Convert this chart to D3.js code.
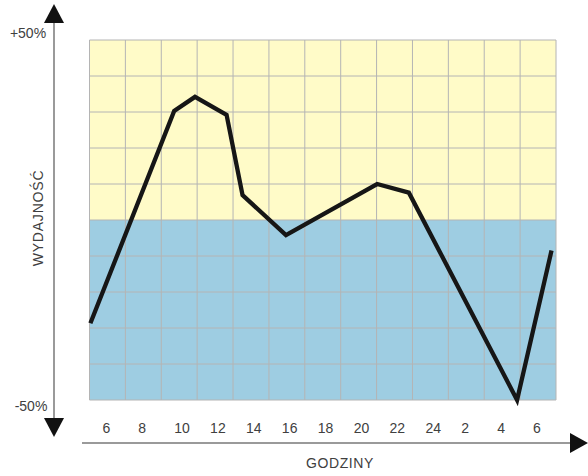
<!DOCTYPE html>
<html>
<head>
<meta charset="utf-8">
<script src="https://cdn.jsdelivr.net/npm/d3@7"></script>
<style>
  html, body { margin: 0; padding: 0; background: #ffffff; }
  svg { display: block; font-family: "Liberation Sans", Arial, sans-serif; }
</style>
</head>
<body>
<svg id="chart" width="588" height="476"></svg>
<script>
// Data (hours continue past 24: 26 = 2:00, 28 = 4:00, 30 = 6:00)
const hours = [5.05, 9.72, 10.88, 12.64, 13.53, 15.95, 21.03, 22.8, 28.83, 30.75];
const efficiency = [-28.7, 30.3, 34.2, 29.2, 6.9, -4.2, 10.0, 7.6, -50.0, -8.5];
const tickHours = [6, 8, 10, 12, 14, 16, 18, 20, 22, 24, 26, 28, 30];
const tickLabels = ["6", "8", "10", "12", "14", "16", "18", "20", "22", "24", "2", "4", "6"];
const yGridValues = [-50, -40, -30, -20, -10, 0, 10, 20, 30, 40, 50];
const xGridHours = [5, 7, 9, 11, 13, 15, 17, 19, 21, 23, 25, 27, 29, 31];

const svg = d3.select("#chart");
const plot = { left: 89.5, right: 556, top: 40, bottom: 400 };

const x = d3.scaleLinear().domain([5, 31]).range([plot.left, plot.right]);
const y = d3.scaleLinear().domain([-50, 50]).range([plot.bottom, plot.top]);

// Background zones
svg.append("rect")
  .attr("x", x(5)).attr("y", y(50))
  .attr("width", x(31) - x(5)).attr("height", y(0) - y(50))
  .attr("fill", "#fffbc8");
svg.append("rect")
  .attr("x", x(5)).attr("y", y(0))
  .attr("width", x(31) - x(5)).attr("height", y(-50) - y(0))
  .attr("fill", "#9ecde2");

// Grid
const grid = svg.append("g").attr("stroke", "#b4b4b4").attr("stroke-width", 1);
grid.selectAll("line.v").data(xGridHours).join("line")
  .attr("x1", d => x(d)).attr("x2", d => x(d))
  .attr("y1", y(50)).attr("y2", y(-50));
grid.selectAll("line.h").data(yGridValues).join("line")
  .attr("x1", x(5)).attr("x2", x(31))
  .attr("y1", d => y(d)).attr("y2", d => y(d));

// Line
const line = d3.line().x((d, i) => x(hours[i])).y(d => y(d));
svg.append("path")
  .datum(efficiency)
  .attr("d", line)
  .attr("fill", "none")
  .attr("stroke", "#161616")
  .attr("stroke-width", 4.3)
  .attr("stroke-linejoin", "miter");

// X tick labels
const xAxis = d3.axisBottom(x)
  .tickValues(tickHours)
  .tickSize(0)
  .tickPadding(0)
  .tickFormat((d, i) => tickLabels[i]);
const gx = svg.append("g")
  .attr("transform", "translate(0," + 423 + ")")
  .call(xAxis);
gx.select(".domain").remove();
gx.selectAll("text")
  .attr("text-anchor", "start")
  .attr("dx", -5.5)
  .attr("font-size", 14)
  .attr("font-family", "Liberation Sans, Arial, sans-serif")
  .attr("fill", "#404040");

// Axis lines
svg.append("line")
  .attr("x1", 54).attr("x2", 54).attr("y1", 22).attr("y2", 418)
  .attr("stroke", "#9a9a9a").attr("stroke-width", 2);
svg.append("line")
  .attr("x1", 82).attr("x2", 571).attr("y1", 443).attr("y2", 443)
  .attr("stroke", "#9a9a9a").attr("stroke-width", 2);

// Arrows
svg.append("path").attr("d", "M54,4 L44,23 L64,23 Z").attr("fill", "#111");
svg.append("path").attr("d", "M44,418 L64,418 L54,437 Z").attr("fill", "#111");
svg.append("path").attr("d", "M570,433 L588,443 L570,453 Z").attr("fill", "#111");

// Y labels
svg.append("text").attr("x", 28).attr("y", 38)
  .attr("text-anchor", "middle").attr("font-size", 14).attr("fill", "#404040")
  .text("+50%");
svg.append("text").attr("x", 31).attr("y", 411)
  .attr("text-anchor", "middle").attr("font-size", 14).attr("fill", "#404040")
  .text("-50%");

// Axis titles
svg.append("text")
  .attr("transform", "translate(43,218) rotate(-90)")
  .attr("text-anchor", "middle").attr("font-size", 14)
  .attr("letter-spacing", 0.8)
  .attr("fill", "#404040")
  .text("WYDAJNOŚĆ");
svg.append("text")
  .attr("x", 340).attr("y", 468)
  .attr("text-anchor", "middle").attr("font-size", 14)
  .attr("letter-spacing", 0.6)
  .attr("fill", "#404040")
  .text("GODZINY");
</script>
</body>
</html>
